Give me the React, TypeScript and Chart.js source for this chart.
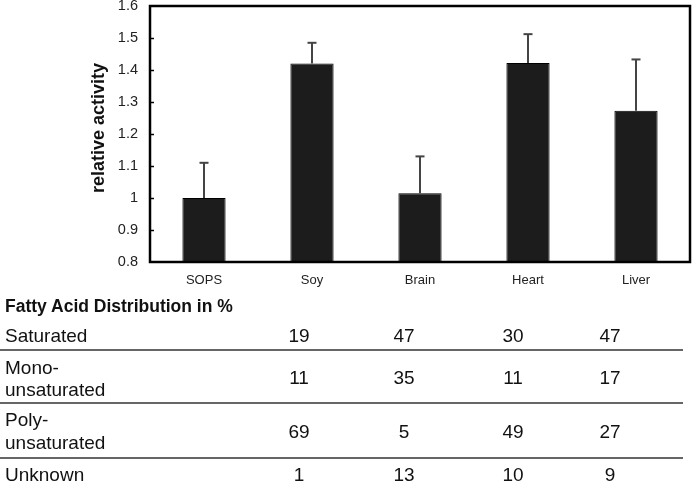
import React, { useEffect, useRef } from "react";
import { Chart, registerables } from "chart.js";

Chart.register(...registerables);

const categories = ["SOPS", "Soy", "Brain", "Heart", "Liver"];
const activity = [1.0, 1.42, 1.015, 1.422, 1.273];
const errorUp = [0.11, 0.065, 0.115, 0.09, 0.16];
const yTicksMin = 0.8;
const yTicksMax = 1.6;
const yStep = 0.1;

const tableTitle = "Fatty Acid Distribution in %";
const tableColumns = ["Soy", "Brain", "Heart", "Liver"];
const saturated = [19, 47, 30, 47];
const monounsaturated = [11, 35, 11, 17];
const polyunsaturated = [69, 5, 49, 27];
const unknown = [1, 13, 10, 9];
const rowLabels = [["Saturated"], ["Mono-", "unsaturated"], ["Poly-", "unsaturated"], ["Unknown"]];

const FONT = "'Liberation Sans', Arial, Helvetica, sans-serif";

const W = 693;
const H = 483;
const PLOT_LEFT = 150;
const PLOT_BOTTOM = 262;

export default function App() {
  const ref = useRef<HTMLCanvasElement | null>(null);

  useEffect(() => {
    const canvas = ref.current;
    if (!canvas) return;

    const framePlugin = {
      id: "frameAndErrors",
      afterDatasetsDraw(chart: any) {
        const { ctx, chartArea, scales } = chart;
        const xs = scales.x;
        const ys = scales.y;
        ctx.save();
        // error bars
        ctx.strokeStyle = "#444";
        ctx.lineWidth = 2;
        activity.forEach((v, i) => {
          const x = xs.getPixelForValue(i);
          const y0 = ys.getPixelForValue(v);
          const y1 = ys.getPixelForValue(v + errorUp[i]);
          ctx.beginPath();
          ctx.moveTo(x, y0);
          ctx.lineTo(x, y1);
          ctx.stroke();
          ctx.beginPath();
          ctx.moveTo(x - 4.5, y1);
          ctx.lineTo(x + 4.5, y1);
          ctx.stroke();
        });
        // frame
        ctx.strokeStyle = "#000";
        ctx.lineWidth = 2.5;
        ctx.strokeRect(chartArea.left, chartArea.top, chartArea.right - chartArea.left, chartArea.bottom - chartArea.top);
        // inner tick marks on y axis
        ctx.lineWidth = 1.5;
        for (let t = yTicksMin + yStep; t < yTicksMax - 1e-9; t += yStep) {
          const y = Math.round(ys.getPixelForValue(t)) + 0.5;
          ctx.beginPath();
          ctx.moveTo(chartArea.left, y);
          ctx.lineTo(chartArea.left + 4, y);
          ctx.stroke();
        }
        // y title
        ctx.translate(99, 128);
        ctx.rotate(-Math.PI / 2);
        ctx.fillStyle = "#111";
        ctx.font = `bold 18px ${FONT}`;
        ctx.textAlign = "center";
        ctx.textBaseline = "middle";
        ctx.fillText("relative activity", 0, 0);
        ctx.restore();
      },
    };

    const chart = new Chart(canvas, {
      type: "bar",
      data: {
        labels: categories,
        datasets: [
          {
            data: activity,
            backgroundColor: "#1c1c1c",
            borderColor: "#000",
            borderWidth: 1,
            barPercentage: 0.4,
            categoryPercentage: 1,
          },
        ],
      },
      options: {
        responsive: false,
        animation: false,
        devicePixelRatio: 1,
        layout: { padding: { left: 0, right: 3, top: 6, bottom: 0 } },
        plugins: { legend: { display: false }, tooltip: { enabled: false }, title: { display: false } },
        scales: {
          x: {
            grid: { display: false, drawTicks: false },
            border: { display: true, color: "#000", width: 2 },
            ticks: {
              color: "#222",
              padding: 11,
              font: { family: "'Liberation Sans Narrow', 'Liberation Sans', Arial, sans-serif", size: 13 },
            },
            afterFit: (scale: any) => {
              scale.height = H - PLOT_BOTTOM - 0;
              scale.paddingLeft = 0;
              scale.paddingRight = 0;
            },
          },
          y: {
            min: yTicksMin,
            max: yTicksMax,
            grid: { display: false, drawTicks: false },
            border: { display: true, color: "#000", width: 2 },
            ticks: {
              stepSize: yStep,
              color: "#222",
              padding: 12,
              font: { family: FONT, size: 14.5 },
              callback: (v: any) => String(Math.round(Number(v) * 10) / 10),
            },
            afterFit: (scale: any) => {
              scale.width = PLOT_LEFT;
              scale.paddingTop = 0;
              scale.paddingBottom = 0;
            },
          },
        },
      },
      plugins: [framePlugin],
    });

    return () => chart.destroy();
  }, []);

  const numCols = [299, 404, 513, 610];
  const rows = [saturated, monounsaturated, polyunsaturated, unknown];
  const rowNumY = [336, 378, 432, 475];
  const rowLabelY = [[336], [368, 390], [420, 443], [475]];
  const lineY = [350, 403, 458];

  const textStyle = (x: number, y: number, center: boolean): React.CSSProperties => ({
    position: "absolute",
    left: center ? x - 30 : x,
    width: center ? 60 : undefined,
    top: y - 12,
    height: 24,
    lineHeight: "24px",
    textAlign: center ? "center" : "left",
    fontFamily: FONT,
    fontSize: 19,
    color: "#111",
    whiteSpace: "nowrap",
  });

  return (
    <div style={{ position: "absolute", left: 0, top: 0, width: W, height: H, background: "#fff", overflow: "hidden" }}>
      <canvas ref={ref} width={W} height={H} style={{ position: "absolute", left: 0, top: 0, width: W, height: H }} />
      <div
        style={{
          position: "absolute",
          left: 5,
          top: 306 - 12,
          height: 24,
          lineHeight: "24px",
          fontFamily: FONT,
          fontWeight: "bold",
          fontSize: 17.5,
          color: "#111",
          whiteSpace: "nowrap",
        }}
      >
        {tableTitle}
      </div>
      {rowLabels.map((lines, r) =>
        lines.map((t, k) => (
          <div key={`l${r}-${k}`} style={textStyle(5, rowLabelY[r][k], false)}>
            {t}
          </div>
        ))
      )}
      {rows.map((vals, r) =>
        vals.map((v, c) => (
          <div key={`n${r}-${c}`} title={tableColumns[c]} style={textStyle(numCols[c], rowNumY[r], true)}>
            {v}
          </div>
        ))
      )}
      {lineY.map((y, i) => (
        <div key={`h${i}`} style={{ position: "absolute", left: 0, top: y - 1, width: 683, height: 2, background: "#666" }} />
      ))}
    </div>
  );
}
